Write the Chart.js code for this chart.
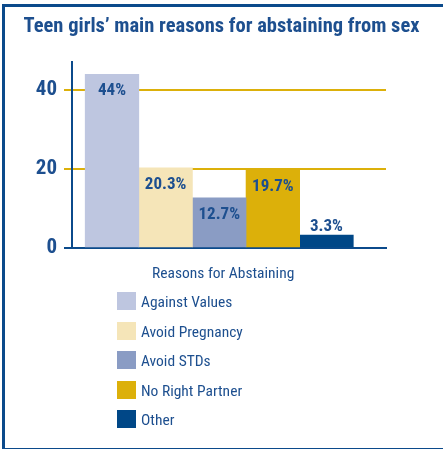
<!DOCTYPE html>
<html>
<head>
<meta charset="utf-8">
<script src="https://cdn.jsdelivr.net/npm/chart.js@4.4.0/dist/chart.umd.min.js"></script>
<style>
  html, body { margin: 0; padding: 0; background: #fff; }
  body { width: 443px; height: 449px; position: relative; overflow: hidden; }
  #frame {
    position: absolute; left: 2px; top: 4px; width: 441px; height: 441px;
    border-left: 3px solid #0b4a8b; border-top: 3px solid #0b4a8b; border-bottom: 3px solid #0b4a8b;
  }
  #chart { position: absolute; left: 0; top: 0; }
  #legend {
    position: absolute; left: 117px; top: 264px;
    font-family: 'Roboto Condensed', 'Liberation Sans', sans-serif;
    font-size: 15.5px; color: #1d4f8f;
  }
  #legend .title { position: absolute; left: 35px; top: 0; white-space: nowrap; }
  #legend .item { position: absolute; left: 0; white-space: nowrap; height: 19px; }
  #legend .box { position: absolute; left: 0; top: 0; width: 19px; height: 18px; }
  #legend .txt { position: absolute; left: 24px; top: 1px; }
</style>
</head>
<body>
<div id="frame"></div>
<canvas id="chart" width="443" height="449"></canvas>
<div id="legend"></div>
<script>
document.addEventListener('DOMContentLoaded', function() {
  // Chart data
  const chartTitle = 'Teen girls\u2019 main reasons for abstaining from sex';
  const legendTitle = 'Reasons for Abstaining';
  const categories = ['Against Values', 'Avoid Pregnancy', 'Avoid STDs', 'No Right Partner', 'Other'];
  const percentages = [44, 20.3, 12.7, 19.7, 3.3];
  const percentLabels = ['44%', '20.3%', '12.7%', '19.7%', '3.3%'];
  const barColors = ['#bec6e0', '#f5e5b8', '#8a9cc4', '#dcb00a', '#004787'];

  const blue = '#0b4a8b';
  const textBlue = '#1d4f8f';
  const gold = '#dcb00a';
  const condensed = "'Roboto Condensed', 'Liberation Sans', sans-serif";

  // one dataset per reason, placed at x = 1..5 on a linear axis
  const datasets = categories.map(function(name, i) {
    return {
      label: name,
      data: [{ x: i + 1, y: percentages[i] }],
      backgroundColor: barColors[i],
      borderWidth: 0,
      grouped: false,
      barPercentage: 1,
      categoryPercentage: 1
    };
  });

  // percent labels on the bars
  const valueLabels = {
    id: 'valueLabels',
    afterDatasetsDraw(chart) {
      const ctx = chart.ctx;
      ctx.save();
      ctx.font = 'bold 17px ' + condensed;
      ctx.fillStyle = textBlue;
      ctx.textAlign = 'center';
      ctx.textBaseline = 'middle';
      chart.data.datasets.forEach(function(ds, i) {
        const bar = chart.getDatasetMeta(i).data[0];
        const h = bar.base - bar.y;
        const y = h < 30 ? bar.y - 8 : bar.y + 17;
        ctx.fillText(percentLabels[i], bar.x, y);
      });
      ctx.restore();
    }
  };

  const ctx = document.getElementById('chart').getContext('2d');
  const chart = new Chart(ctx, {
    type: 'bar',
    data: { datasets: datasets },
    options: {
      responsive: false,
      animation: false,
      layout: { padding: { left: 0, right: 0, top: 0, bottom: 193 } },
      plugins: {
        legend: { display: false },
        tooltip: { enabled: false },
        title: {
          display: true,
          text: chartTitle,
          color: textBlue,
          font: { family: condensed, size: 20.5, weight: 'bold' },
          padding: { top: 15, bottom: 22 }
        }
      },
      scales: {
        x: {
          type: 'linear',
          offset: false,
          min: 0.254,
          max: 6.11,
          ticks: { display: false, stepSize: 100 },
          grid: { display: false },
          border: { display: true, color: blue, width: 2 }
        },
        y: {
          min: 0,
          max: 47.2,
          afterFit: function(scale) { scale.width = 72; },
          ticks: {
            stepSize: 20,
            includeBounds: false,
            padding: 7,
            color: textBlue,
            font: { family: condensed, size: 21, weight: 'bold' }
          },
          grid: {
            color: function(c) { return c.tick && c.tick.value === 0 ? blue : gold; },
            lineWidth: 2,
            tickLength: 8
          },
          border: { display: true, color: blue, width: 2 }
        },
        spacer: {
          position: 'right',
          afterFit: function(scale) { scale.width = 57; },
          ticks: { display: false },
          grid: { display: false },
          border: { display: false }
        }
      }
    },
    plugins: [valueLabels]
  });

  // legend below the plot, one reason per row
  const legend = document.getElementById('legend');
  const t = document.createElement('div');
  t.className = 'title';
  t.textContent = legendTitle;
  legend.appendChild(t);
  chart.data.datasets.forEach(function(ds, i) {
    const item = document.createElement('div');
    item.className = 'item';
    item.style.top = (28 + i * 29.5) + 'px';
    const box = document.createElement('span');
    box.className = 'box';
    box.style.background = ds.backgroundColor;
    const txt = document.createElement('span');
    txt.className = 'txt';
    txt.textContent = ds.label;
    item.appendChild(box);
    item.appendChild(txt);
    legend.appendChild(item);
  });
});
</script>
</body>
</html>
